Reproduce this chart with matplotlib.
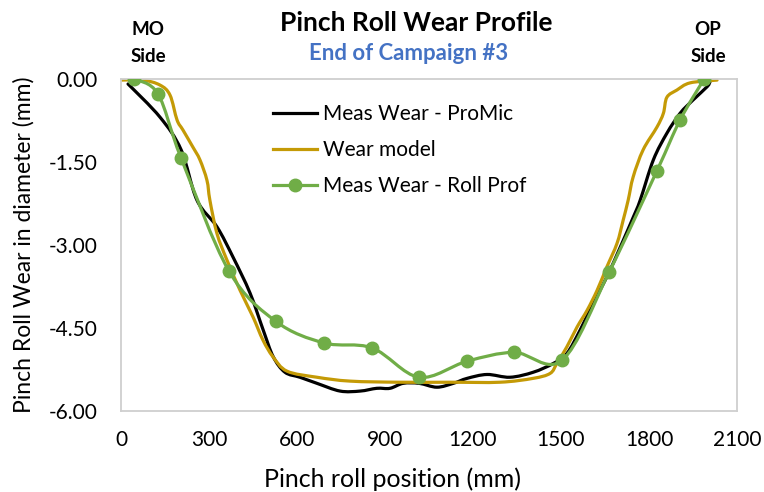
import numpy as np
import matplotlib.pyplot as plt
from matplotlib.path import Path
from matplotlib.patches import PathPatch
from matplotlib.lines import Line2D

plt.rcParams['font.family'] = ['Lato', 'DejaVu Sans']

# Meas Wear - ProMic (black)
promic_x = [24, 133, 205, 259, 327, 382, 440, 485, 519, 559, 610, 668, 747, 815, 872,
            917, 962, 1016, 1077, 1133, 1180, 1248, 1326, 1405, 1474, 1520, 1565, 1610,
            1656, 1702, 1747, 1770, 1815, 1861, 1906, 1950, 1998, 2008]
promic_y = [-0.09, -0.69, -1.28, -2.19, -2.67, -3.22, -3.87, -4.54, -5.02, -5.30, -5.39,
            -5.50, -5.64, -5.64, -5.59, -5.59, -5.50, -5.50, -5.57, -5.50, -5.41, -5.34,
            -5.39, -5.30, -5.14, -4.96, -4.54, -4.05, -3.58, -3.04, -2.49, -2.19, -1.46,
            -0.98, -0.62, -0.38, -0.14, -0.05]

# Wear model (gold)
model_x = [0, 75, 133, 167, 191, 211, 245, 269, 293, 303, 327, 361, 406, 450, 484, 518,
           566, 668, 781, 951, 1122, 1292, 1405, 1463, 1486, 1520, 1555, 1589, 1623, 1656,
           1691, 1712, 1729, 1746, 1780, 1827, 1849, 1861, 1895, 1940, 2032]
model_y = [-0.02, -0.02, -0.11, -0.29, -0.74, -0.92, -1.23, -1.46, -1.83, -2.19, -2.79,
           -3.27, -3.82, -4.30, -4.72, -5.02, -5.28, -5.39, -5.46, -5.48, -5.48, -5.48,
           -5.41, -5.32, -5.14, -4.84, -4.48, -4.18, -3.82, -3.40, -2.97, -2.55, -2.19,
           -1.77, -1.28, -0.87, -0.62, -0.33, -0.20, -0.07, -0.02]

# Meas Wear - Roll Prof (green, markers)
roll_x = [44, 126, 205, 368, 528, 692, 856, 1016, 1180, 1340, 1504, 1664, 1827, 1906, 1988]
roll_y = [0.0, -0.27, -1.43, -3.47, -4.38, -4.77, -4.86, -5.39, -5.10, -4.94, -5.08,
          -3.49, -1.66, -0.74, 0.0]

x_ticks = [0, 300, 600, 900, 1200, 1500, 1800, 2100]
y_ticks = [0.0, -1.5, -3.0, -4.5, -6.0]

black = 'black'
gold = '#C49A06'
green = '#70AD47'


def smooth_path(xs, ys):
    # Excel style smoothed line: bezier segments through the points
    p = np.column_stack([xs, ys]).astype(float)
    verts = [p[0]]
    codes = [Path.MOVETO]
    n = len(p)
    for i in range(n - 1):
        p0 = p[i - 1] if i > 0 else p[i]
        p3 = p[i + 2] if i + 2 < n else p[i + 1]
        c1 = p[i] + (p[i + 1] - p0) / 6
        c2 = p[i + 1] - (p3 - p[i]) / 6
        verts += [c1, c2, p[i + 1]]
        codes += [Path.CURVE4] * 3
    return Path(verts, codes)


W, H = 764, 492
fig = plt.figure(figsize=(W / 100, H / 100), dpi=100)
ax = fig.add_axes([121 / W, 1 - 411 / H, (737 - 121) / W, (411 - 79) / H])

for xs, ys, c in [(promic_x, promic_y, black), (model_x, model_y, gold), (roll_x, roll_y, green)]:
    ax.add_patch(PathPatch(smooth_path(xs, ys), facecolor='none', edgecolor=c,
                           lw=2.3, capstyle='round', joinstyle='round'))
ax.plot(roll_x, roll_y, 'o', color=green, ms=9, zorder=3)

ax.set_xlim(0, 2100)
ax.set_ylim(-6, 0)
ax.set_xticks(x_ticks)
ax.set_yticks(y_ticks)
ax.set_yticklabels(['%.2f' % v for v in y_ticks])
ax.tick_params(length=0, labelsize=15)
ax.tick_params(axis='x', pad=14)
ax.tick_params(axis='y', pad=17)
for s in ax.spines.values():
    s.set_color('#CFCFCF')
    s.set_linewidth(1.3)

ax.set_xlabel('Pinch roll position (mm)', fontsize=18, va='baseline')
ax.xaxis.set_label_coords((393 - 121) / 616, -(487 - 411) / 332)
ax.set_ylabel('Pinch Roll Wear in diameter (mm)', fontsize=16.5, va='center')
ax.yaxis.set_label_coords(-(121 - 24) / 616, 0.5)

handles = [Line2D([], [], color=black, lw=2.3),
           Line2D([], [], color=gold, lw=2.3),
           Line2D([], [], color=green, lw=2.3, marker='o', ms=9)]
labels = ['Meas Wear - ProMic', 'Wear model', 'Meas Wear - Roll Prof']
ax.legend(handles, labels, loc='upper left', bbox_to_anchor=((273 - 121) / 616, (411 - 104) / 332),
          frameon=False, fontsize=15, handlelength=2.1, handletextpad=0.3,
          labelspacing=0.78, borderpad=0, borderaxespad=0)

fig.text(416 / W, 1 - 31 / H, 'Pinch Roll Wear Profile', ha='center', va='baseline',
         fontsize=19, fontweight='bold')
fig.text(409 / W, 1 - 60 / H, 'End of Campaign #3', ha='center', va='baseline',
         fontsize=16, fontweight='bold', color='#4472C4')
for cx, top, bottom in [(148, 'MO', 'Side'), (708, 'OP', 'Side')]:
    fig.text(cx / W, 1 - 35 / H, top, ha='center', va='baseline', fontsize=13.5, fontweight='bold')
    fig.text(cx / W, 1 - 62 / H, bottom, ha='center', va='baseline', fontsize=13.5, fontweight='bold')

fig.savefig('out.png', dpi=100)
